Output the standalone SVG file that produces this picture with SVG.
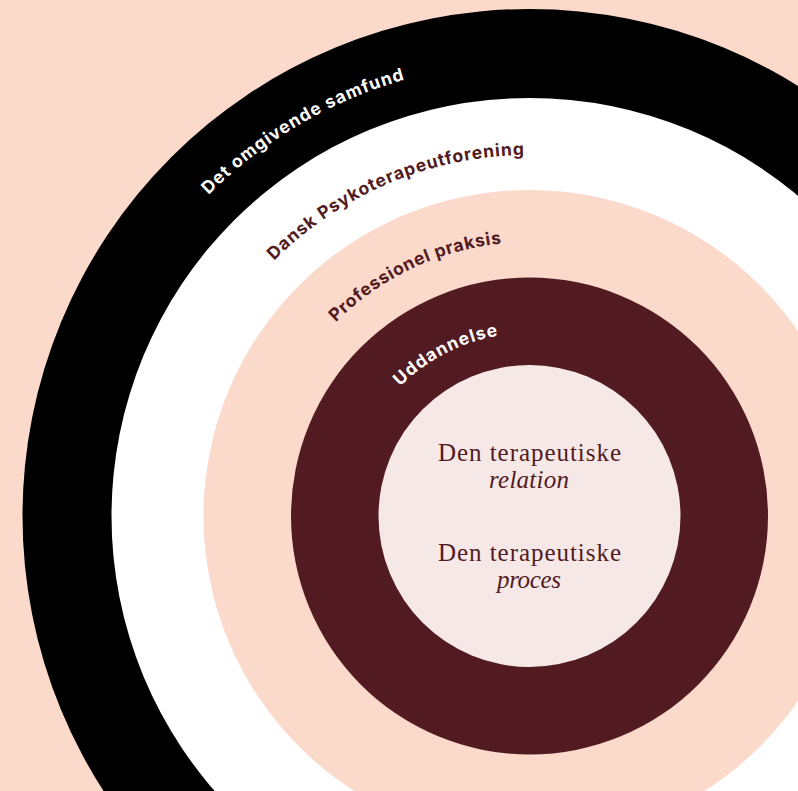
<svg xmlns="http://www.w3.org/2000/svg" width="798" height="791" viewBox="0 0 798 791">
<style>
.lbl{font-family:Inter,"Liberation Sans",Arial,sans-serif;font-weight:700;font-size:17.5px}
.w{fill:#ffffff}
.r{fill:#521b22}
.ctr{font-family:"Liberation Serif","Times New Roman",serif;font-size:25px;fill:#521b22;text-anchor:middle}
.it{font-style:italic}
</style>
<defs>
<path id="p1" d="M208.5,195 A454,454 0 0 1 850.5,195"/>
<path id="p2" d="M274.2,260.7 A361,361 0 0 1 784.8,260.7"/>
<path id="p3" d="M335.8,322.3 A274,274 0 0 1 723.2,322.3"/>
<path id="p4" d="M400.1,386.6 A183,183 0 0 1 658.9,386.6"/>
</defs>
<rect width="798" height="791" fill="#fbd9cb"/>
<g id="ring-samfund">
<circle cx="529.5" cy="516" r="507" fill="#000000"/>
<text class="lbl w"><textPath href="#p1" textLength="230" lengthAdjust="spacing">Det omgivende samfund</textPath></text>
</g>
<g id="ring-forening">
<circle cx="529.5" cy="516" r="418" fill="#ffffff"/>
<text class="lbl r"><textPath href="#p2" textLength="278" lengthAdjust="spacing">Dansk Psykoterapeutforening</textPath></text>
</g>
<g id="ring-praksis">
<circle cx="529.5" cy="516" r="326" fill="#fbd9cb"/>
<text class="lbl r"><textPath href="#p3" textLength="187" lengthAdjust="spacing">Professionel praksis</textPath></text>
</g>
<g id="ring-uddannelse">
<circle cx="529.5" cy="516" r="238.5" fill="#521b22"/>
<text class="lbl w"><textPath href="#p4" textLength="112" lengthAdjust="spacing">Uddannelse</textPath></text>
</g>
<g id="core">
<circle cx="529.5" cy="516" r="151" fill="#f7e8e8"/>
<text class="ctr" x="529.5" y="461" textLength="183" lengthAdjust="spacing">Den terapeutiske</text>
<text class="ctr it" x="529" y="488" textLength="80" lengthAdjust="spacing">relation</text>
<text class="ctr" x="529.5" y="561" textLength="183" lengthAdjust="spacing">Den terapeutiske</text>
<text class="ctr it" x="529" y="588" textLength="64" lengthAdjust="spacing">proces</text>
</g>
<g id="connectors"></g>
</svg>
